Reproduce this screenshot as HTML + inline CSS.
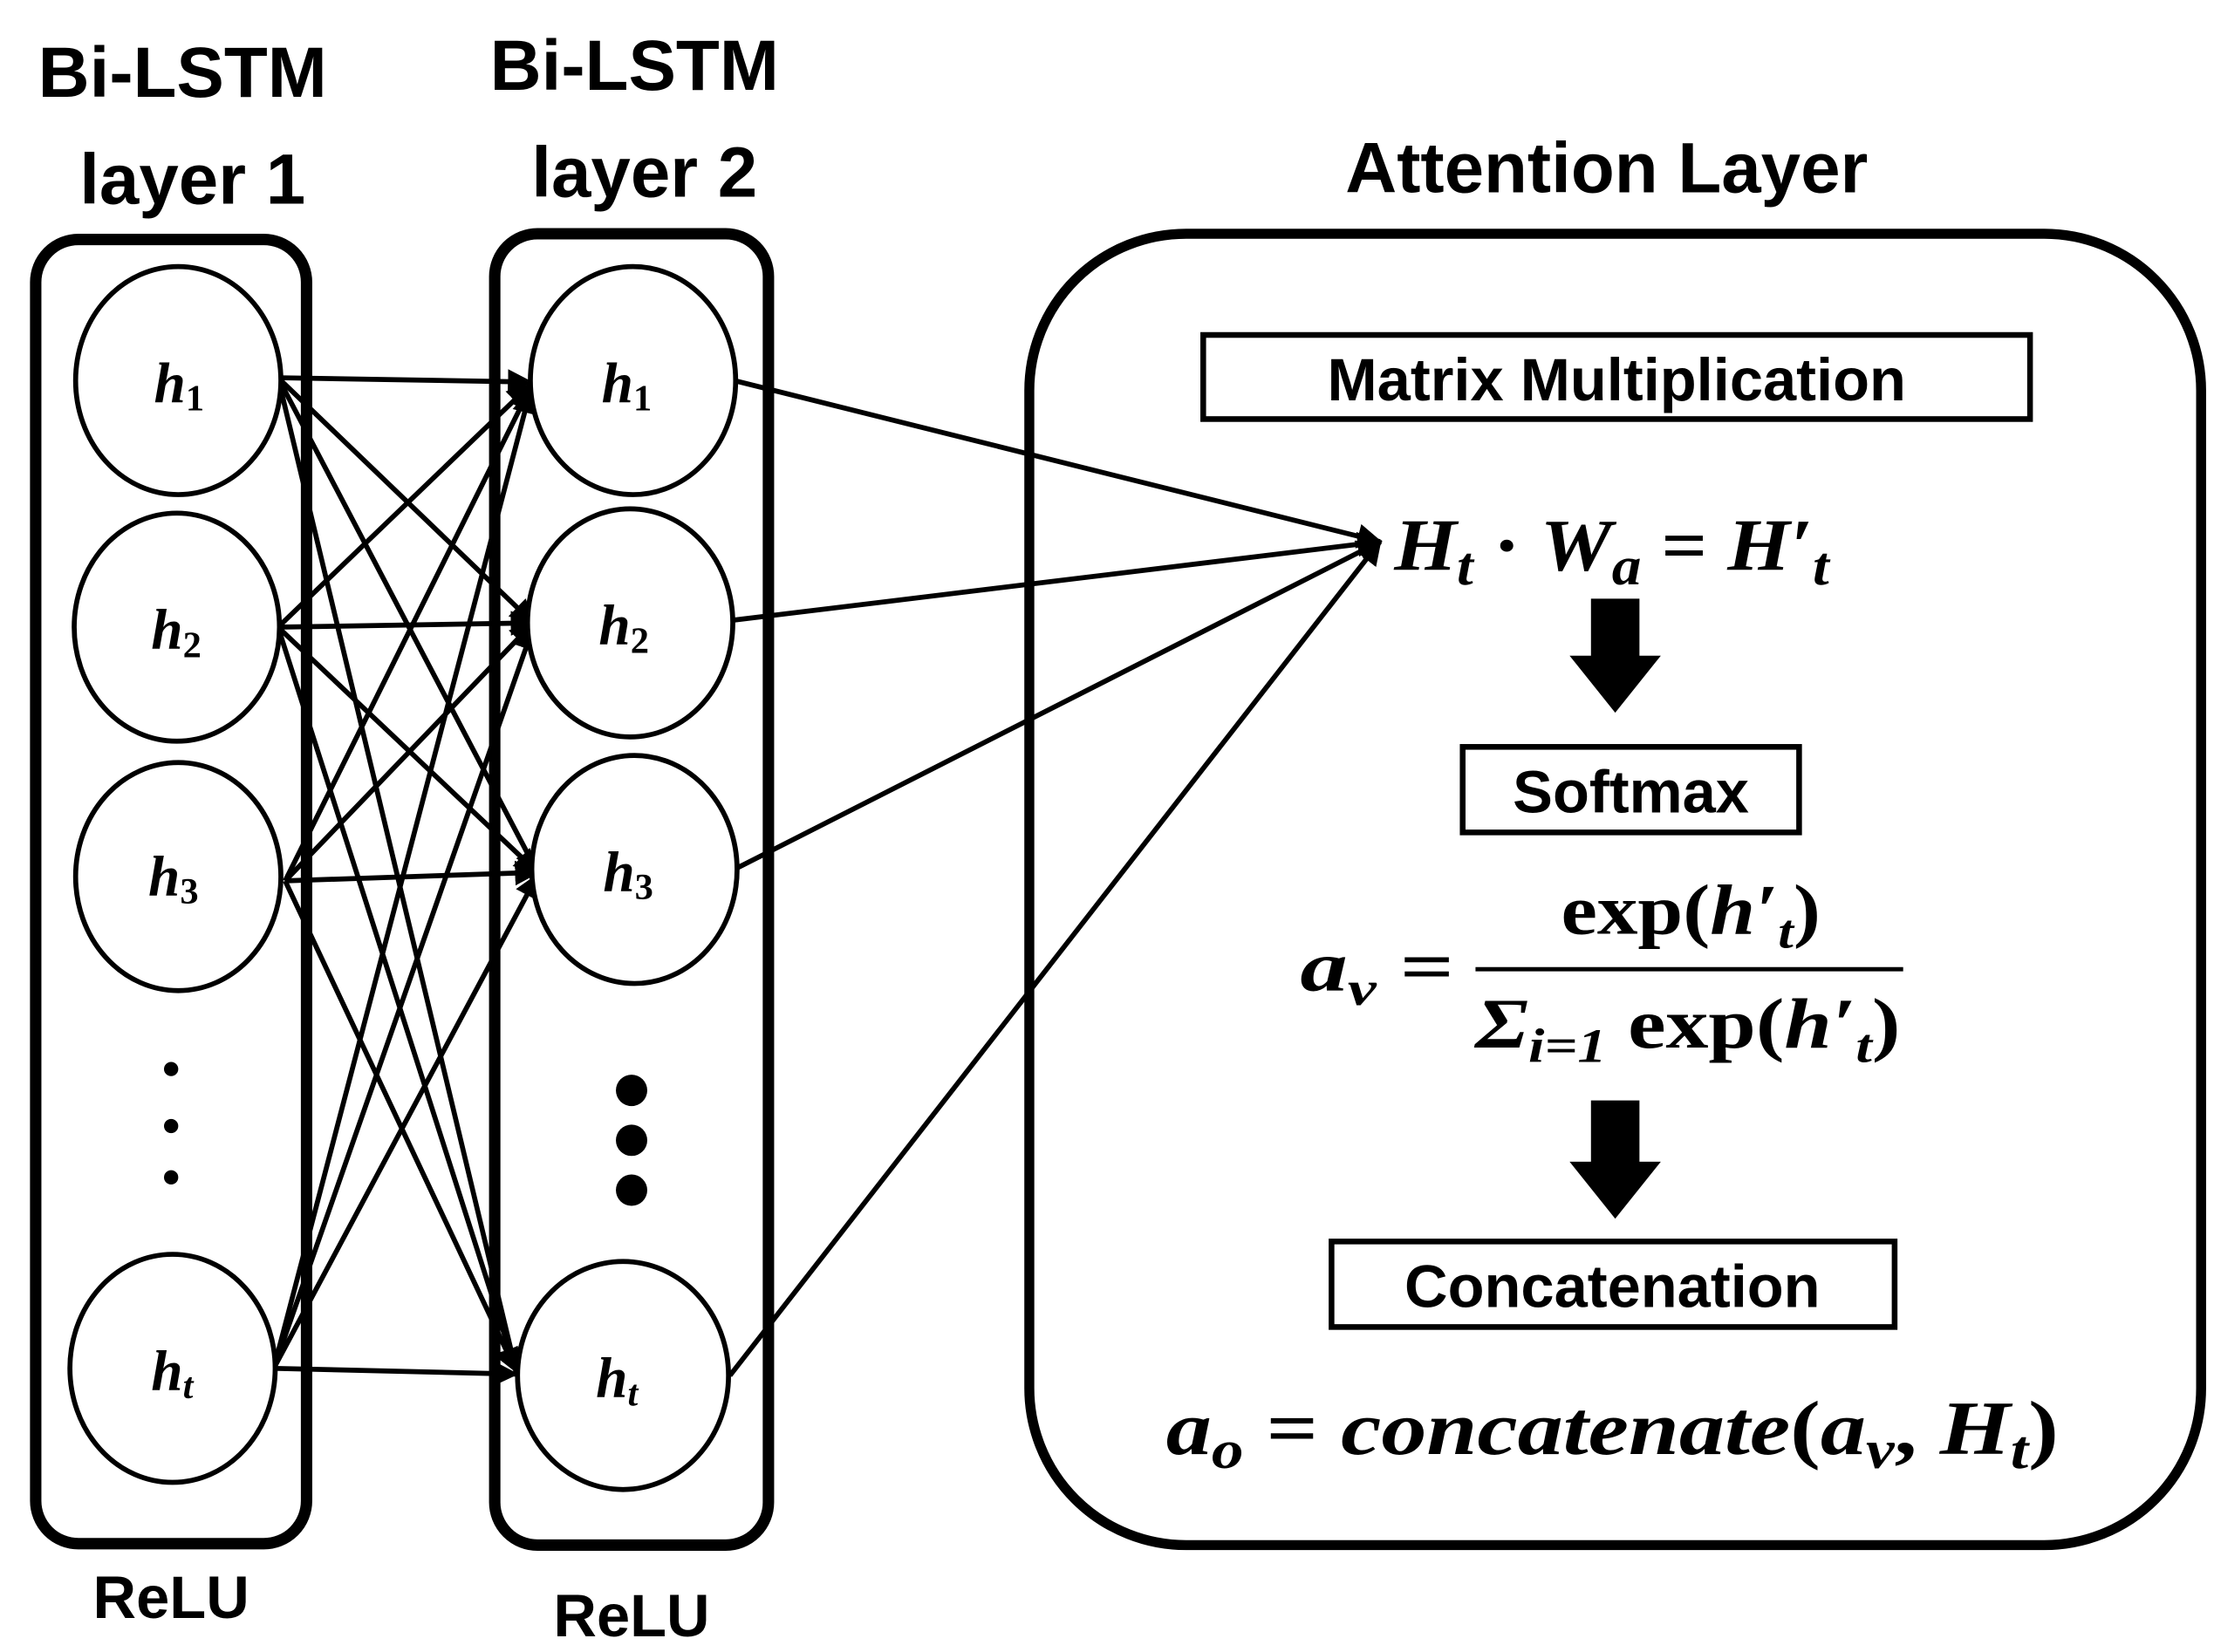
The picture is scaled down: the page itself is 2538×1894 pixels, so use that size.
<!DOCTYPE html>
<html><head><meta charset="utf-8"><style>
html,body{margin:0;padding:0;background:#fff}
svg{display:block}
.t{font-family:"Liberation Sans Narrow","Liberation Sans",sans-serif;font-weight:bold;fill:#000}
.m{font-family:"Liberation Serif",serif;font-weight:bold;font-style:italic;fill:#000}
.r{font-family:"Liberation Serif",serif;font-weight:bold;fill:#000}
</style></head><body>
<svg width="2538" height="1894" viewBox="0 0 1553 1159" xmlns="http://www.w3.org/2000/svg">
<defs>
<marker id="ah" viewBox="0 0 10 10" refX="9" refY="5" markerWidth="5" markerHeight="5" orient="auto" markerUnits="strokeWidth">
<path d="M0,0 L10,5 L0,10 z" fill="#000"/></marker>
</defs>
<rect width="1553" height="1159" fill="#fff"/>
<text class="t" x="128" y="68" font-size="50" text-anchor="middle">Bi-LSTM</text>
<text class="t" x="135" y="143" font-size="50" text-anchor="middle">layer 1</text>
<text class="t" x="445" y="63" font-size="50" text-anchor="middle">Bi-LSTM</text>
<text class="t" x="452" y="138" font-size="50" text-anchor="middle">layer 2</text>
<text class="t" x="1127" y="135" font-size="50" text-anchor="middle">Attention Layer</text>
<text class="t" x="120" y="1135" font-size="42" text-anchor="middle">ReLU</text>
<text class="t" x="443" y="1148" font-size="42" text-anchor="middle">ReLU</text>
<rect x="25" y="168" width="190" height="915" rx="30" fill="none" stroke="#000" stroke-width="8"/>
<rect x="347" y="164" width="192" height="920" rx="30" fill="none" stroke="#000" stroke-width="8"/>
<rect x="722" y="164" width="822" height="920" rx="110" fill="none" stroke="#000" stroke-width="7"/>
<g stroke="#000" stroke-width="3.5" fill="none" marker-end="url(#ah)">
<line x1="195" y1="265" x2="372" y2="268"/>
<line x1="195" y1="265" x2="374" y2="437"/>
<line x1="195" y1="265" x2="377" y2="612"/>
<line x1="195" y1="265" x2="362" y2="962"/>
<line x1="195" y1="440" x2="372" y2="270"/>
<line x1="195" y1="440" x2="374" y2="437"/>
<line x1="195" y1="440" x2="377" y2="612"/>
<line x1="195" y1="440" x2="362" y2="962"/>
<line x1="200" y1="618" x2="372" y2="272"/>
<line x1="200" y1="618" x2="374" y2="437"/>
<line x1="200" y1="618" x2="377" y2="612"/>
<line x1="200" y1="618" x2="362" y2="962"/>
<line x1="192" y1="960" x2="372" y2="274"/>
<line x1="192" y1="960" x2="374" y2="440"/>
<line x1="192" y1="960" x2="377" y2="614"/>
<line x1="192" y1="960" x2="362" y2="964"/>
<line x1="515" y1="267" x2="968" y2="380"/>
<line x1="515" y1="435" x2="968" y2="380"/>
<line x1="515" y1="610" x2="968" y2="380"/>
<line x1="512" y1="965" x2="968" y2="380"/>
</g>
<g fill="#fff" stroke="#000" stroke-width="3.5">
<ellipse cx="125" cy="267" rx="72" ry="80"/>
<ellipse cx="124" cy="440" rx="72" ry="80"/>
<ellipse cx="125" cy="615" rx="72" ry="80"/>
<ellipse cx="121" cy="960" rx="72" ry="80"/>
<ellipse cx="444" cy="267" rx="72" ry="80"/>
<ellipse cx="442" cy="437" rx="72" ry="80"/>
<ellipse cx="445" cy="610" rx="72" ry="80"/>
<ellipse cx="437" cy="965" rx="74" ry="80"/>
</g>
<g font-size="40">
<text class="m" x="108" y="282">h<tspan font-size="26" dy="6" font-style="normal">1</tspan></text>
<text class="m" x="106" y="455">h<tspan font-size="26" dy="6" font-style="normal">2</tspan></text>
<text class="m" x="104" y="628">h<tspan font-size="26" dy="6" font-style="normal">3</tspan></text>
<text class="m" x="106" y="975">h<tspan font-size="26" dy="6">t</tspan></text>
<text class="m" x="422" y="282">h<tspan font-size="26" dy="6" font-style="normal">1</tspan></text>
<text class="m" x="420" y="452">h<tspan font-size="26" dy="6" font-style="normal">2</tspan></text>
<text class="m" x="423" y="625">h<tspan font-size="26" dy="6" font-style="normal">3</tspan></text>
<text class="m" x="418" y="980">h<tspan font-size="26" dy="6">t</tspan></text>
</g>
<circle cx="120" cy="750" r="5"/><circle cx="120" cy="790" r="5"/><circle cx="120" cy="826" r="5"/>
<circle cx="443" cy="765" r="11"/><circle cx="443" cy="800" r="11"/><circle cx="443" cy="835" r="11"/>
<rect x="844" y="235" width="580" height="59" fill="none" stroke="#000" stroke-width="4"/>
<text class="t" x="1134" y="281" font-size="42" text-anchor="middle" style="font-family:'Liberation Sans',sans-serif">Matrix Multiplication</text>
<text class="m" x="978" y="400" font-size="52" textLength="305" lengthAdjust="spacingAndGlyphs">H<tspan font-size="38" dy="10">t</tspan><tspan dy="-10" font-style="normal"> · </tspan>W<tspan font-size="38" dy="10">a</tspan><tspan dy="-10" font-style="normal"> = </tspan>H′<tspan font-size="38" dy="10">t</tspan></text>
<polygon points="1116,420 1150,420 1150,460 1165,460 1133,500 1101,460 1116,460" fill="#000"/>
<rect x="1026" y="524" width="236" height="60" fill="none" stroke="#000" stroke-width="4"/>
<text class="t" x="1144" y="570" font-size="42" text-anchor="middle" style="font-family:'Liberation Sans',sans-serif">Softmax</text>
<text class="m" x="912" y="695" font-size="50" textLength="108" lengthAdjust="spacingAndGlyphs">a<tspan font-size="34" dy="10">v</tspan><tspan dy="-10" font-style="normal"> =</tspan></text>
<text class="r" x="1095" y="655" font-size="50" textLength="182" lengthAdjust="spacingAndGlyphs">exp(<tspan font-style="italic">h′<tspan font-size="34" dy="10">t</tspan></tspan><tspan dy="-10">)</tspan></text>
<line x1="1035" y1="680" x2="1335" y2="680" stroke="#000" stroke-width="3"/>
<text class="r" x="1035" y="735" font-size="50" textLength="298" lengthAdjust="spacingAndGlyphs"><tspan font-style="italic">Σ</tspan><tspan font-size="34" dy="10" font-style="italic">i=1</tspan><tspan dy="-10"> exp(</tspan><tspan font-style="italic">h′<tspan font-size="34" dy="10">t</tspan></tspan><tspan dy="-10">)</tspan></text>
<polygon points="1116,772 1150,772 1150,815 1165,815 1133,855 1101,815 1116,815" fill="#000"/>
<rect x="934" y="871" width="395" height="60" fill="none" stroke="#000" stroke-width="4"/>
<text class="t" x="1131" y="917" font-size="42" text-anchor="middle" style="font-family:'Liberation Sans',sans-serif">Concatenation</text>
<text class="m" x="818" y="1020" font-size="54" textLength="626" lengthAdjust="spacingAndGlyphs">a<tspan font-size="38" dy="10">o</tspan><tspan dy="-10" font-style="normal"> = </tspan>concatenate<tspan font-style="normal">(</tspan>a<tspan font-size="38" dy="10">v</tspan><tspan dy="-10" font-style="normal">, </tspan>H<tspan font-size="38" dy="10">t</tspan><tspan dy="-10" font-style="normal">)</tspan></text>
</svg>
</body></html>
